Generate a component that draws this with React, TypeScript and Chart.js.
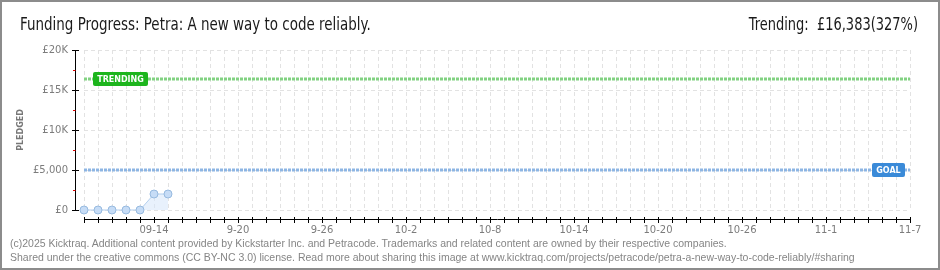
import React, { useEffect, useRef } from 'react';
import { Chart, registerables } from 'chart.js';

Chart.register(...registerables);

// ---- data ----
const dayCount = 60; // 09-09 .. 11-07, one step per day
const xTickDays = [5, 11, 17, 23, 29, 35, 41, 47, 53, 59];
const xTickLabels = ['09-14', '9-20', '9-26', '10-2', '10-8', '10-14', '10-20', '10-26', '11-1', '11-7'];
const pledgedDays = [0, 1, 2, 3, 4, 5, 6];
const pledgedValues = [0, 0, 0, 0, 0, 2000, 2000];
const trendingValue = 16383;
const goalValue = 5000;
const yTickValues = [0, 5000, 10000, 15000, 20000];
const yTickLabels = ['£0', '£5,000', '£10K', '£15K', '£20K'];
const yMinorTicks = [2500, 7500, 12500, 17500];

const titleText = 'Funding Progress: Petra: A new way to code reliably.';
const trendingText = 'Trending:  £16,383(327%)';
const footerLines = [
  '(c)2025 Kicktraq. Additional content provided by Kickstarter Inc. and Petracode. Trademarks and related content are owned by their respective companies.',
  'Shared under the creative commons (CC BY-NC 3.0) license. Read more about sharing this image at www.kicktraq.com/projects/petracode/petra-a-new-way-to-code-reliably/#sharing',
];

const decorPlugin = {
  id: 'decor',
  afterDatasetsDraw(chart: any) {
    const { ctx, chartArea, scales } = chart;
    const xs = scales.x;
    const ys = scales.y;
    ctx.save();
    const line = (x1: number, y1: number, x2: number, y2: number, color: string) => {
      ctx.strokeStyle = color;
      ctx.lineWidth = 1;
      ctx.beginPath();
      ctx.moveTo(x1, y1);
      ctx.lineTo(x2, y2);
      ctx.stroke();
    };
    // y axis
    const ax = Math.round(chartArea.left) - 9 + 0.5;
    line(ax, chartArea.top, ax, chartArea.bottom + 1, '#000');
    yTickValues.forEach((v) => {
      const py = Math.round(ys.getPixelForValue(v)) + 0.5;
      line(ax - 3.5, py, ax + 3.5, py, '#000');
    });
    yMinorTicks.forEach((v) => {
      const py = Math.round(ys.getPixelForValue(v)) + 0.5;
      line(ax - 2.5, py, ax, py, '#e00000');
    });
    // x axis
    const ay = Math.round(chartArea.bottom) + 9 + 0.5;
    line(chartArea.left, ay, chartArea.right + 1, ay, '#000');
    for (let d = 0; d < dayCount; d++) {
      const px = Math.round(xs.getPixelForValue(d)) + 0.5;
      line(px, ay - 2.5, px, ay + 3.5, '#000');
    }
    // tags
    const tag = (text: string, color: string, left: number, cy: number, w: number) => {
      const h = 14;
      const top = Math.round(cy - h / 2);
      ctx.fillStyle = color;
      ctx.beginPath();
      ctx.roundRect(left, top, w, h, 2);
      ctx.fill();
      ctx.fillStyle = '#fff';
      ctx.font = 'bold 8px "DejaVu Sans", sans-serif';
      ctx.textAlign = 'center';
      ctx.textBaseline = 'middle';
      ctx.fillText(text, left + w / 2, top + h / 2 + 0.5);
    };
    tag('TRENDING', '#1db51d', chartArea.left + 9, ys.getPixelForValue(trendingValue), 55);
    tag('GOAL', '#3a8ad8', chartArea.right - 38, ys.getPixelForValue(goalValue), 33);
    ctx.restore();
  },
};

export default function App() {
  const canvasRef = useRef<HTMLCanvasElement | null>(null);

  useEffect(() => {
    document.body.style.margin = '0';
    const canvas = canvasRef.current;
    if (!canvas) return;
    const chart = new Chart(canvas, {
      type: 'line',
      data: {
        datasets: [
          {
            label: 'Pledged',
            data: pledgedDays.map((d, i) => ({ x: d, y: pledgedValues[i] })),
            borderColor: '#b3cfee',
            borderWidth: 1,
            backgroundColor: 'rgba(214,230,249,0.55)',
            fill: 'origin',
            clip: false,
            pointRadius: 4,
            pointBackgroundColor: '#c6dcf6',
            pointBorderColor: '#97badf',
            pointBorderWidth: 1,
            tension: 0,
            order: 1,
          },
          {
            label: 'Trending',
            data: [
              { x: 0, y: trendingValue },
              { x: dayCount - 1, y: trendingValue },
            ],
            borderColor: '#82d282',
            borderWidth: 3,
            borderDash: [3, 1],
            pointRadius: 0,
            fill: false,
            order: 2,
          },
          {
            label: 'Goal',
            data: [
              { x: 0, y: goalValue },
              { x: dayCount - 1, y: goalValue },
            ],
            borderColor: '#8db5e3',
            borderWidth: 3,
            borderDash: [3, 1],
            pointRadius: 0,
            fill: false,
            order: 3,
          },
        ],
      },
      options: {
        responsive: false,
        animation: false,
        events: [],
        layout: { padding: { top: 50, right: 30, bottom: 0, left: 0 } },
        plugins: {
          legend: { display: false },
          tooltip: { enabled: false },
          title: { display: false },
        },
        scales: {
          x: {
            type: 'linear',
            min: 0,
            max: dayCount - 1,
            afterFit: (s: any) => {
              s.height = 60;
            },
            grid: { color: '#e2e2e2', lineWidth: 1, drawTicks: false },
            border: { display: false, dash: [4, 3] },
            ticks: {
              stepSize: 1,
              autoSkip: false,
              maxRotation: 0,
              padding: 14,
              color: '#7c7c7c',
              font: { family: '"DejaVu Sans", sans-serif', size: 10 },
              callback: (v: any) => {
                const i = xTickDays.indexOf(Number(v));
                return i >= 0 ? xTickLabels[i] : '';
              },
            },
          },
          y: {
            min: 0,
            max: 20000,
            afterFit: (s: any) => {
              s.width = 84;
            },
            grid: { color: '#e2e2e2', lineWidth: 1, drawTicks: false },
            border: { display: false, dash: [4, 3] },
            title: {
              display: true,
              text: 'PLEDGED',
              color: '#777',
              padding: { top: 16, bottom: 0 },
              font: { family: '"DejaVu Sans", sans-serif', size: 8, weight: 'bold' },
            },
            ticks: {
              stepSize: 5000,
              padding: 16,
              color: '#7c7c7c',
              font: { family: '"DejaVu Sans", sans-serif', size: 10 },
              callback: (v: any) => {
                const i = yTickValues.indexOf(Number(v));
                return i >= 0 ? yTickLabels[i] : '';
              },
            },
          },
        },
      },
      plugins: [decorPlugin],
    } as any);
    return () => chart.destroy();
  }, []);

  const headFont = '"Liberation Sans Narrow", "DejaVu Sans Condensed", "Liberation Sans", sans-serif';

  return (
    <div style={{ position: 'relative', width: 940, height: 270, background: '#fff', overflow: 'hidden' }}>
      <canvas ref={canvasRef} width={940} height={270} style={{ position: 'absolute', left: 0, top: 0 }} />
      <div
        style={{
          position: 'absolute',
          left: 20,
          top: 14,
          fontFamily: headFont,
          fontSize: 17,
          lineHeight: '20px',
          color: '#1a1a1a',
          whiteSpace: 'nowrap',
          transform: 'scaleX(0.88)',
          transformOrigin: 'left center',
        }}
      >
        {titleText}
      </div>
      <div
        style={{
          position: 'absolute',
          right: 22,
          top: 14,
          fontFamily: headFont,
          fontSize: 17,
          lineHeight: '20px',
          color: '#1a1a1a',
          whiteSpace: 'pre',
          transform: 'scaleX(0.85)',
          transformOrigin: 'right center',
        }}
      >
        {trendingText}
      </div>
      {footerLines.map((t, i) => (
        <div
          key={i}
          style={{
            position: 'absolute',
            left: 10,
            top: 237 + i * 14,
            fontFamily: '"Liberation Sans", Arial, sans-serif',
            fontSize: 10.5,
            lineHeight: '12px',
            color: '#858585',
            whiteSpace: 'nowrap',
          }}
        >
          {t}
        </div>
      ))}
      <div
        style={{
          position: 'absolute',
          left: 0,
          top: 0,
          width: 940,
          height: 270,
          boxSizing: 'border-box',
          border: '2px solid #8c8c8c',
          pointerEvents: 'none',
        }}
      />
    </div>
  );
}
